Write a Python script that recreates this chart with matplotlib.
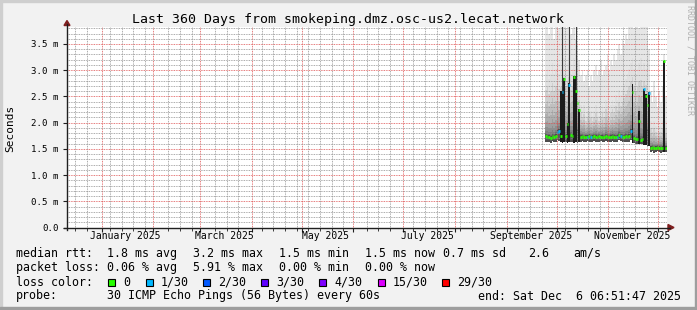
import numpy as np
import matplotlib
matplotlib.use("Agg")
import matplotlib.pyplot as plt
import matplotlib.dates as mdates
from matplotlib.patches import Rectangle, Polygon
from matplotlib.lines import Line2D
from datetime import datetime, timedelta

W, H = 697, 310

# time range of the graph
end = datetime(2025, 12, 6, 6, 51, 47)
start = end - timedelta(days=360)
data_start = datetime(2025, 9, 24)

# daily values (ms) from 2025-09-24 on
median = [1.74, 1.72, 1.73, 1.71, 1.74, 1.72, 1.75, 1.82, 1.84, 1.74,
          2.59, 2.83, 1.75, 1.98, 2.71, 1.76, 1.74, 2.87, 2.60, 2.37,
          2.24, 1.73, 1.74, 1.72, 1.73, 1.73, 1.74, 1.72, 1.73, 1.74,
          1.73, 1.72, 1.74, 1.73, 1.73, 1.72, 1.74, 1.73, 1.72, 1.73,
          1.74, 1.73, 1.72, 1.73, 1.76, 1.74, 1.73, 1.72, 1.74, 1.73,
          1.75, 1.84, 2.58, 1.70, 1.68, 1.68, 2.04, 1.67, 1.68, 2.65,
          2.50, 2.33, 2.56, 1.52, 1.53, 1.51, 1.52, 1.53, 1.52, 1.51,
          1.52, 3.17, 1.52]
# loss level per day (0 -> 0/30, 1 -> 1/30)
loss = [0, 0, 0, 0, 0, 0, 0, 1, 1, 0,
        1, 0, 0, 0, 1, 0, 0, 0, 0, 0,
        0, 0, 0, 0, 0, 1, 0, 1, 0, 0,
        0, 0, 0, 0, 0, 0, 0, 0, 0, 0,
        0, 0, 0, 1, 0, 1, 0, 0, 0, 0,
        0, 1, 0, 0, 0, 0, 0, 0, 0, 1,
        0, 0, 1, 0, 0, 0, 0, 0, 0, 0,
        0, 0, 0]
smoke_lo = [1.64, 1.63, 1.64, 1.62, 1.65, 1.63, 1.64, 1.66, 1.65, 1.63,
            1.62, 1.63, 1.64, 1.62, 1.63, 1.64, 1.63, 1.62, 1.63, 1.62,
            1.63, 1.64, 1.65, 1.64, 1.64, 1.65, 1.64, 1.63, 1.64, 1.65,
            1.64, 1.63, 1.64, 1.65, 1.64, 1.63, 1.65, 1.64, 1.63, 1.64,
            1.65, 1.64, 1.63, 1.64, 1.66, 1.65, 1.64, 1.63, 1.64, 1.63,
            1.64, 1.66, 1.62, 1.61, 1.60, 1.60, 1.59, 1.60, 1.59, 1.58,
            1.58, 1.55, 1.55, 1.44, 1.45, 1.43, 1.44, 1.45, 1.44, 1.43,
            1.44, 1.44, 1.44]
smoke_p90 = [2.9, 3.0, 2.8, 2.9, 3.1, 2.9, 3.0, 3.1, 2.9, 3.0,
             3.3, 3.2, 3.0, 3.1, 3.2, 2.9, 3.0, 3.2, 3.0, 2.8,
             2.6, 2.3, 2.2, 2.3, 2.1, 2.2, 2.3, 2.2, 2.1, 2.2,
             2.3, 2.2, 2.1, 2.2, 2.3, 2.2, 2.4, 2.3, 2.2, 2.3,
             2.4, 2.3, 2.5, 2.4, 2.6, 2.5, 2.6, 2.7, 2.8, 2.9,
             3.0, 3.1, 3.2, 3.0, 2.9, 3.0, 3.1, 3.2, 3.0, 3.1,
             3.0, 2.8, 2.6, 2.0, 1.9, 2.0, 1.9, 1.8, 1.9, 1.9,
             2.0, 2.1, 2.0]
smoke_max = [3.9, 3.9, 3.7, 3.9, 3.9, 3.6, 3.9, 3.9, 3.8, 3.9,
             3.9, 3.9, 3.8, 3.9, 3.9, 3.7, 3.8, 3.9, 3.6, 3.5,
             3.2, 2.9, 3.0, 2.8, 2.9, 3.0, 2.7, 2.9, 2.8, 3.0,
             3.1, 2.9, 3.0, 3.2, 2.9, 3.0, 3.1, 3.3, 3.0, 3.2,
             3.1, 3.3, 3.2, 3.4, 3.5, 3.3, 3.6, 3.5, 3.7, 3.6,
             3.9, 3.9, 3.9, 3.8, 3.9, 3.9, 3.8, 3.9, 3.9, 3.9,
             3.9, 3.7, 3.4, 2.6, 2.4, 2.8, 2.5, 2.3, 2.6, 2.4,
             2.7, 3.3, 2.5]
# dark columns (day index -> top of dense smoke)
core_days = [9, 10, 11, 13, 14, 17, 18, 20, 52, 56, 59, 60, 62, 71]
core_top = [2.60, 3.75, 2.85, 2.00, 2.75, 2.88, 2.88, 2.26, 2.74, 2.23, 2.65, 2.55, 2.58, 3.17]
spike_days = [10, 14, 18]
spike_top = [3.9, 3.9, 3.9]

loss_labels = ["0", "1/30", "2/30", "3/30", "4/30", "15/30", "29/30"]
loss_colors = ["#26ff00", "#00b8ff", "#0059ff", "#5e00ff", "#7e00ff", "#dd00ff", "#ff0000"]

stats_rtt = ["1.8 ms avg", "3.2 ms max", "1.5 ms min", "1.5 ms now", "0.7 ms sd", "2.6", "am/s"]
stats_loss = ["0.06 % avg", "5.91 % max", "0.00 % min", "0.00 % now"]

month_labels = ["January 2025", "March 2025", "May 2025", "July 2025",
                "September 2025", "November 2025"]
month_label_dates = [datetime(2025, 1, 15, 12), datetime(2025, 3, 15, 12),
                     datetime(2025, 5, 15, 12), datetime(2025, 7, 15, 12),
                     datetime(2025, 9, 15, 12), datetime(2025, 11, 15, 12)]

plt.rcParams['font.family'] = ['DejaVu Sans Mono']

fig = plt.figure(figsize=(W / 100, H / 100), dpi=100)
fig.patch.set_facecolor("#f2f2f2")


def fx(x):
    return x / W


def fy(y):
    return 1 - y / H


# shaded border
fig.patches.append(Rectangle((0, fy(2)), 1, 2 / H, transform=fig.transFigure, color="#cfcfcf", zorder=0))
fig.patches.append(Rectangle((0, 0), 2 / W, 1, transform=fig.transFigure, color="#cfcfcf", zorder=0))
fig.patches.append(Rectangle((0, 0), 1, 3 / H, transform=fig.transFigure, color="#9e9e9e", zorder=0))
fig.patches.append(Rectangle((fx(695), 0), 2 / W, 1, transform=fig.transFigure, color="#9e9e9e", zorder=0))

ax = fig.add_axes([fx(67), fy(227.5), 600 / W, (227.5 - 27) / H])
ax.set_facecolor("white")
for s in ax.spines.values():
    s.set_visible(False)

days = np.array([mdates.date2num(data_start + timedelta(days=i)) for i in range(len(median) + 1)])
x0 = days[:-1]
x1 = days[1:]
lo = np.array(smoke_lo)
med = np.array(median)
p90 = np.array(smoke_p90)
mx = np.array(smoke_max)


def step_fill(bottom, top, color, z):
    xs = np.repeat(days, 2)[1:-1]
    ax.fill_between(xs, np.repeat(bottom, 2), np.repeat(top, 2), color=color, lw=0, zorder=z)


# smoke: light outer range, then a gradient that gets dark near the median
step_fill(lo, mx, "#e6e6e6", 1)
n_layers = 10
grays = np.linspace(0.88, 0.30, n_layers)
base = np.minimum(med, 1.85)
for j in range(n_layers):
    frac = j / n_layers
    top = base + 0.03 + (p90 - base) * (1 - frac) ** 3
    step_fill(lo, top, str(grays[j]), 2)
step_fill(lo + 0.03, base, "#5a5a5a", 2.5)

for d, t in zip(core_days, core_top):
    ax.fill_between([x0[d], x1[d]], [lo[d]] * 2, [t] * 2, color="#1c1c1c", lw=0, zorder=3)
for d, t in zip(spike_days, spike_top):
    xm = (x0[d] + x1[d]) / 2
    ax.vlines(xm, med[d], t, color="#3a3a3a", lw=0.8, zorder=3)

ax.hlines(med, x0, x1, colors=[loss_colors[l] for l in loss], lw=2.0, zorder=5)

ax.set_xlim(mdates.date2num(start), mdates.date2num(end))
ax.set_ylim(0, 3.824)

# grid
month_starts = [mdates.date2num(datetime(2025, m, 1)) for m in range(1, 13)]
mondays = []
d = datetime(2024, 12, 16)
while d < end:
    near = min(abs(mdates.date2num(d) - m) for m in month_starts)
    if near > 2:
        mondays.append(mdates.date2num(d))
    d += timedelta(days=7)
ax.set_xticks(month_starts)
ax.set_xticks(mondays, minor=True)
ax.set_xticklabels([])
ax.set_yticks(np.arange(0, 3.6, 0.5))
ax.set_yticks([v / 10 for v in range(0, 39) if v % 5], minor=True)
ax.set_yticklabels(["0.0"] + [f"{v:.1f} m" for v in np.arange(0.5, 3.6, 0.5)],
                   fontsize=6.6)
ax.grid(True, which="minor", color=(0.56, 0.56, 0.56, 0.22), lw=0.6, ls=(0, (1, 1)), zorder=6)
ax.grid(True, which="major", color=(0.87, 0.31, 0.31, 0.40), lw=0.6, ls=(0, (1, 1)), zorder=6)
ax.set_axisbelow(False)
ax.tick_params(axis="y", which="major", length=3, width=0.8, direction="out", pad=3, colors="#1f1f1f")
ax.tick_params(axis="y", which="minor", length=0)
ax.tick_params(axis="x", which="major", length=3, width=0.8, direction="out", colors="#1f1f1f")
ax.tick_params(axis="x", which="minor", length=2, width=0.6, direction="out", colors="#1f1f1f")
for lab in ax.get_yticklabels():
    lab.set_color("black")

for lab, dt in zip(month_labels, month_label_dates):
    ax.text(mdates.date2num(dt), -0.06, lab, ha="center", va="top", fontsize=7.0)

# axes lines and arrows
fig.lines.append(Line2D([fx(67), fx(67)], [fy(230), fy(24)], transform=fig.transFigure, color="#1f1f1f", lw=1))
fig.lines.append(Line2D([fx(64), fx(670)], [fy(227.5), fy(227.5)], transform=fig.transFigure, color="#1f1f1f", lw=1))
fig.patches.append(Polygon([(fx(64), fy(25.5)), (fx(70), fy(25.5)), (fx(67), fy(20.5))],
                           transform=fig.transFigure, color="#801f1f"))
fig.patches.append(Polygon([(fx(668), fy(224.5)), (fx(668), fy(230.5)), (fx(674), fy(227.5))],
                           transform=fig.transFigure, color="#801f1f"))

# title and labels
fig.text(fx(348), fy(19), "Last 360 Days from smokeping.dmz.osc-us2.lecat.network",
         ha="center", va="center", fontsize=9.5)
fig.text(fx(10), fy(128), "Seconds", rotation=90, ha="center", va="center", fontsize=8)
fig.text(fx(690), fy(5), "RRDTOOL / TOBI OETIKER", rotation=270, ha="center", va="top",
         fontsize=6, color="#b0b0b0")

# legend
fs = 8.4
fig.text(fx(16), fy(253.5), "median rtt:", va="center", fontsize=fs)
for s, x in zip(stats_rtt, [107, 193, 279, 365, 443, 528, 573]):
    fig.text(fx(x), fy(253.5), s, va="center", fontsize=fs)
fig.text(fx(16), fy(267.8), "packet loss:", va="center", fontsize=fs)
for s, x in zip(stats_loss, [107, 193, 279, 365]):
    fig.text(fx(x), fy(267.8), s, va="center", fontsize=fs)
fig.text(fx(16), fy(282), "loss color:", va="center", fontsize=fs)
box_x = [108, 146, 203, 261, 319, 378, 442]
for lab, col, bx in zip(loss_labels, loss_colors, box_x):
    fig.patches.append(Rectangle((fx(bx), fy(285.5)), 7 / W, 7 / H, transform=fig.transFigure,
                                 facecolor=col, edgecolor="black", lw=0.8))
    fig.text(fx(bx + 15), fy(282), lab, va="center", fontsize=fs)
fig.text(fx(16), fy(296), "probe:", va="center", fontsize=fs)
fig.text(fx(107), fy(296), "30 ICMP Echo Pings (56 Bytes) every 60s", va="center", fontsize=fs)
fig.text(fx(478), fy(296), "end: Sat Dec  6 06:51:47 2025", va="center", fontsize=fs)

fig.savefig("out.png", dpi=100, facecolor=fig.get_facecolor())
